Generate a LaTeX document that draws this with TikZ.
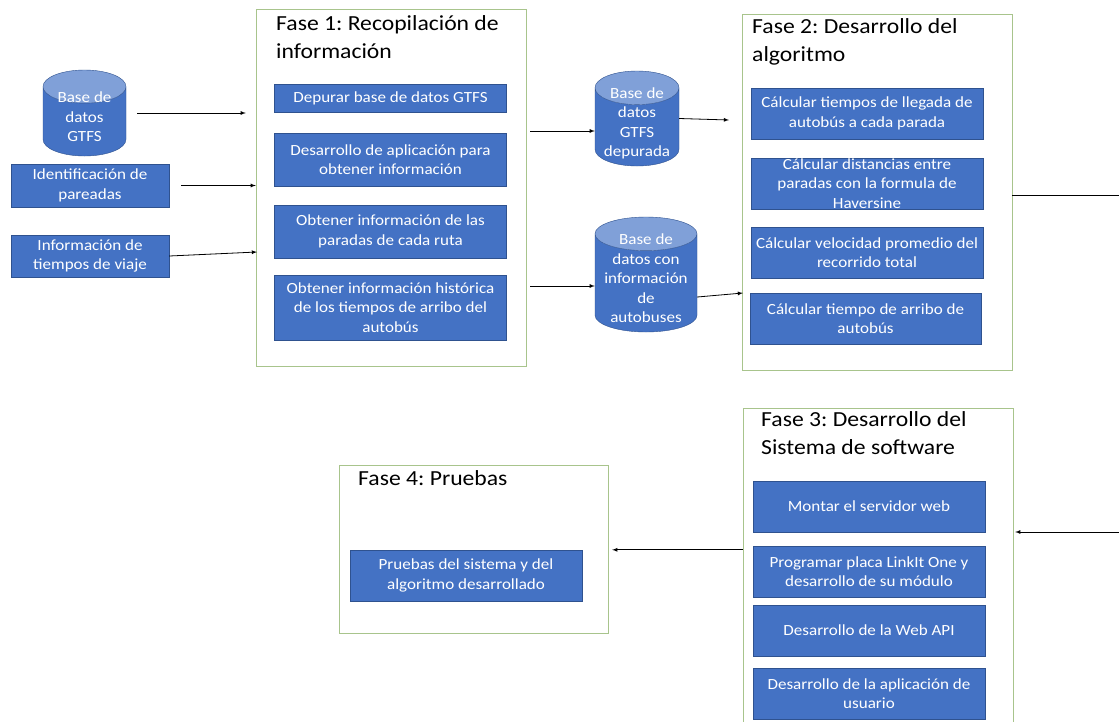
\documentclass[tikz,border=0pt]{standalone}
\usepackage{fontspec}
\setmainfont[FakeStretch=1.1]{Carlito}
\usetikzlibrary{shapes.geometric}
\definecolor{boxblue}{RGB}{68,114,196}
\definecolor{boxedge}{RGB}{47,82,143}
\definecolor{toplight}{RGB}{128,160,216}
\definecolor{phasegreen}{RGB}{168,196,140}
\frenchspacing
\begin{document}
\begin{tikzpicture}[x=1pt,y=-1pt,
    task/.style={rectangle, fill=boxblue, draw=boxedge, text=white, align=center, inner sep=0pt,
        minimum width=232pt, minimum height=51pt, font=\fontsize{15.5}{19.5}\selectfont},
    dbase/.style={cylinder, shape border rotate=90, aspect=0.4, anchor=shape center, draw=boxedge, inner sep=0pt,
        cylinder uses custom fill, cylinder body fill=boxblue, cylinder end fill=toplight},
    dbtext/.style={text=white, align=center, inner sep=0pt, font=\fontsize{15.5}{19.5}\selectfont},
    phase/.style={rectangle, draw=phasegreen, fill=white, inner sep=0pt},
    phasetitle/.style={anchor=north west, align=left, inner sep=0pt, font=\fontsize{21.5}{28}\selectfont},
    link/.style={-latex, line width=0.8pt}]
                \clip (0,0) rectangle (1119,721);
                \fill [white] (0,0) rectangle (1119,721);
                \node [phase, minimum width=270pt, minimum height=357pt] (f1) at (391,187.5) {};
                \node [phase, minimum width=270pt, minimum height=356pt] (f2) at (877,192) {};
                \node [phase, minimum width=270pt, minimum height=316pt] (f3) at (878,566) {};
                \node [phase, minimum width=269pt, minimum height=168pt] (f4) at (473.5,549) {};
                \node [phasetitle] (t1) at (276,15) {Fase 1: Recopilación de\\información};
                \node [phasetitle] (t2) at (752,18) {Fase 2: Desarrollo del\\algoritmo};
                \node [phasetitle] (t3) at (761,411) {Fase 3: Desarrollo del\\Sistema de software};
                \node [phasetitle] (t4) at (358,470) {Fase 4: Pruebas};
                \node [task, minimum height=28pt] (b11) at (390.5,98) {Depurar base de datos GTFS};
                \node [task, minimum height=53pt] (b12) at (390.5,159.5) {Desarrollo de aplicación para\\obtener información};
                \node [task, minimum height=53pt] (b13) at (390.5,231.5) {Obtener información de las\\paradas de cada ruta};
                \node [task, minimum height=65pt] (b14) at (390.5,307.5) {Obtener información histórica\\de los tiempos de arribo del\\autobús};
                \node [task] (b21) at (867,113.5) {Cálcular tiempos de llegada de\\autobús a cada parada};
                \node [task] (b22) at (867,183.5) {Cálcular distancias entre\\paradas con la formula de\\Haversine};
                \node [task] (b23) at (867,252.5) {Cálcular velocidad promedio del\\recorrido total};
                \node [task, minimum width=231pt] (b24) at (865.5,318.5) {Cálcular tiempo de arribo de\\autobús};
                \node [task] (b31) at (869,506.5) {Montar el servidor web};
                \node [task] (b32) at (869,571.5) {Programar placa LinkIt One y\\desarrollo de su módulo};
                \node [task] (b33) at (869,630.5) {Desarrollo de la Web API};
                \node [task] (b34) at (869,693.5) {Desarrollo de la aplicación de\\usuario};
                \node [task] (b41) at (466,575.5) {Pruebas del sistema y del\\algoritmo desarrollado};
                \node [task, minimum width=158pt, minimum height=43pt] (par) at (90,185.5) {Identificación de\\pareadas};
                \node [task, minimum width=158pt, minimum height=42pt] (via) at (90,256) {Información de\\tiempos de viaje};
                \node [dbase, minimum height=86pt] (db0) at (84.5,113) {\hspace*{83pt}};
                \node [dbase, minimum height=95pt] (db1) at (637,118.5) {\hspace*{84pt}};
                \node [dbase, aspect=0.33, minimum height=115pt] (db2) at (646,274.5) {\hspace*{102pt}};
                \node [dbtext] (db0l) at (84.5,117) {Base de\\datos\\GTFS};
                \node [dbtext] (db1l) at (637,123.5) {Base de\\datos\\GTFS\\depurada};
                \node [dbtext] (db2l) at (646,278.5) {Base de\\datos con\\información\\de\\autobuses};
                \coordinate (v1) at (257,252);
                \coordinate (o1) at (530,131);
                \coordinate (o2) at (530,286);
                \coordinate (g1) at (729,120);
                \coordinate (g2) at (743,293);
                \coordinate (e2) at (1119,195);
                \coordinate (e3) at (1119,532);
                \draw [link, shorten <=11pt, shorten >=10pt] (db0.east |- db0.shape center) -- (f1.west |- db0.shape center);
                \draw [link, shorten <=12pt] (par.east) -- (par.east -| f1.west);
                \draw [link] (via.east) -- (v1);
                \draw [link] (o1) -- (o1 -| db1.west);
                \draw [link] (o2) -- (o2 -| db2.west);
                \draw [link] (db1.east |- db1.shape center) -- (g1);
                \draw [link] (db2.east |- 0,297) -- (g2);
                \draw [line width=0.8pt] (f2.east |- e2) -- (e2);
                \draw [link, shorten >=2pt] (e3) -- (e3 -| f3.east);
                \draw [link, shorten >=4pt] (f3.west |- b41.north) -- (f4.east |- b41.north);
            \end{tikzpicture}
\end{document}
